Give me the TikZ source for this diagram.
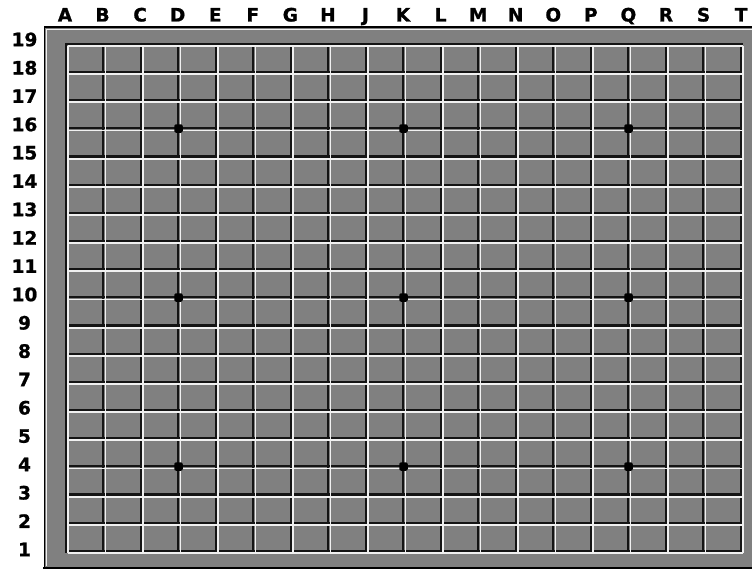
\documentclass[tikz,border=0pt]{standalone}
\usepackage{fontspec}
\setmainfont{DejaVu Sans}
\newfontfamily\labelfont{DejaVu Sans}[UprightFont={* Bold},UprightFeatures={FakeBold=1}]
\definecolor{boardgray}{RGB}{128,128,128}
\definecolor{litline}{RGB}{240,240,240}
\definecolor{darkline}{RGB}{20,20,20}

\begin{document}
\begin{tikzpicture}[x=1pt,y=-1pt,
	lbl/.style={font=\fontsize{18.5}{20}\labelfont,inner sep=0pt},
	hiline/.style={litline,line width=1.8pt},
	shline/.style={darkline,line width=2.2pt},
	hoshi/.style={rectangle,rounded corners=2pt,fill=black,inner sep=0pt,minimum size=8.5pt}]
	\useasboundingbox (0,0) rectangle (752,569);
	\fill[white] (0,0) rectangle (752,569);
	% outer frame
	\fill[boardgray] (44,27) rectangle (760,567);
	\draw[black,line width=1.6pt] (760,27.3) -- (44.3,27.3) -- (44.3,567);
	\draw[black,line width=2.5pt] (43,568) -- (760,568);
	\draw[litline,line width=1.2pt] (760,29.6) -- (46.6,29.6) -- (46.6,566);
	% shadow lines of the cells
	\foreach \i in {0,...,18} {
		\draw[shline] (68+\i*37.5-2.2,43) -- (68+\i*37.5-2.2,553);
		\draw[shline] (65,46+\i*28.17-2.2) -- (743,46+\i*28.17-2.2);
	}
	% grid lines
	\foreach \i in {0,...,18} {
		\draw[hiline] (68+\i*37.5,46) -- (68+\i*37.5,553.1);
		\draw[hiline] (68,46+\i*28.17) -- (743,46+\i*28.17);
	}
	% star points
	\foreach \c in {3,9,15}
		\foreach \r in {3,9,15}
			\node[hoshi] (star-\c-\r) at (68+\c*37.5-2,46+\r*28.17-2) {};
	% coordinates
	\foreach \l [count=\i from 0] in {A,B,C,D,E,F,G,H,J,K,L,M,N,O,P,Q,R,S,T}
		\node[lbl,anchor=base] (col-\l) at (65+\i*37.56,21.5) {\l};
	\foreach \n in {1,...,19}
		\node[lbl] (row-\n) at (24.5,39.5+19*28.33-\n*28.33) {\n};
\end{tikzpicture}
\end{document}
